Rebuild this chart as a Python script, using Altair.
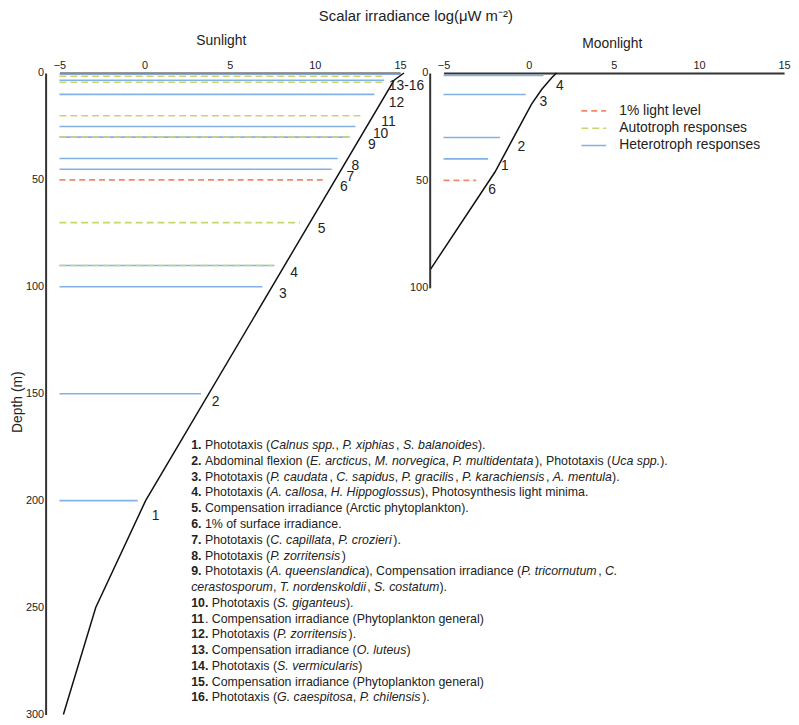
import altair as alt
import pandas as pd

# ---------------- data ----------------
CATS = ["1% light level", "Autotroph responses", "Heterotroph responses"]
L, A, H = CATS
COLORS = ["#f4866a", "#c9d56c", "#82b1e6"]
DASHES = [[6, 4], [7, 4], [1, 0]]

line_start = -5

# Sunlight panel
sun_curve_x = [15.23, 14.65, 0.06, -2.87, -4.77]
sun_curve_depth = [0, 3.4, 200, 250, 300]

sun_line_depth = [0.5, 1.5, 3.4, 4.3, 10, 20, 25, 30, 30, 40, 45, 50, 70, 90, 90, 100, 150, 200]
sun_line_end = [15.0, 14.07, 14.07, 14.07, 13.49, 12.73, 12.38, 12.03, 12.03, 11.34, 10.99, 10.52,
                9.13, 7.62, 7.62, 6.92, 3.31, -0.41]
sun_line_type = [H, A, H, A, H, A, H, H, A, H, H, L, A, H, A, H, H, H]

sun_label_text = ["13-16", "12", "11", "10", "9", "8", "7", "6", "5", "4", "3", "2", "1"]
sun_label_x = [14.34, 14.34, 13.9, 13.41, 13.12, 12.15, 11.86, 11.47, 10.17, 8.56, 7.89, 3.95, 0.42]
sun_label_depth = [6.2, 13.9, 23.1, 28.6, 33.9, 43.5, 48.6, 53.4, 73.1, 93.4, 103.4, 153.7, 207.1]

# Moonlight panel
moon_curve_x = [1.63, 1.34, 0.76, 0.16, -1.98, -5.76]
moon_curve_depth = [0, 2.3, 7.7, 14.6, 46.1, 91.3]

moon_line_depth = [1.2, 10, 30, 40, 50]
moon_line_end = [0.87, -0.17, -1.69, -2.38, -3.08]
moon_line_type = [H, H, H, H, L]

moon_label_text = ["4", "3", "2", "1", "6"]
moon_label_x = [1.61, 0.64, -0.66, -1.63, -2.37]
moon_label_depth = [6.1, 13.5, 34.6, 43.3, 54.5]

# Notes (**bold**, _italic_)
note_lines = [
    "**1.** Phototaxis (_Calnus spp._, _P. xiphias_, _S. balanoides_).",
    "**2.** Abdominal flexion (_E. arcticus_, _M. norvegica_, _P. multidentata_), Phototaxis (_Uca spp._).",
    "**3.** Phototaxis (_P. caudata_, _C. sapidus_, _P. gracilis_, _P. karachiensis_, _A. mentula_).",
    "**4.** Phototaxis (_A. callosa_, _H. Hippoglossus_), Photosynthesis light minima.",
    "**5.** Compensation irradiance (Arctic phytoplankton).",
    "**6.** 1% of surface irradiance.",
    "**7.** Phototaxis (_C. capillata_, _P. crozieri_).",
    "**8.** Phototaxis (_P. zorritensis_)",
    "**9.** Phototaxis (_A. queenslandica_), Compensation irradiance (_P. tricornutum_, _C._",
    "_cerastosporum_, _T. nordenskoldii_, _S. costatum_).",
    "**10.** Phototaxis (_S. giganteus_).",
    "**11**. Compensation irradiance (Phytoplankton general)",
    "**12.** Phototaxis (_P. zorritensis_).",
    "**13.** Compensation irradiance (_O. luteus_)",
    "**14.** Phototaxis (_S. vermicularis_)",
    "**15.** Compensation irradiance (Phytoplankton general)",
    "**16.** Phototaxis (_G. caespitosa_, _P. chilensis_).",
]

# ---------------- layout / style ----------------
FONT = "Liberation Sans"
TXT = "#222222"
SUN_W, MOON_X0, MOON_X1 = 344, 388, 732
SUN_H, MOON_H = 648, 217
NOTE_X, NOTE_Y, NOTE_DY, NOTE_FS = 133, 376, 15.93, 12.5

ARIAL = {' ': 278, '%': 889, '(': 333, ')': 333, ',': 278, '-': 333, '.': 278,
         'A': 667, 'B': 667, 'C': 722, 'D': 722, 'E': 667, 'F': 611, 'G': 778, 'H': 722, 'I': 278,
         'J': 500, 'K': 667, 'L': 556, 'M': 833, 'N': 722, 'O': 778, 'P': 667, 'Q': 778, 'R': 722,
         'S': 667, 'T': 611, 'U': 722, 'V': 667, 'W': 944, 'X': 667, 'Y': 667, 'Z': 611,
         'a': 556, 'b': 556, 'c': 500, 'd': 556, 'e': 556, 'f': 278, 'g': 556, 'h': 556, 'i': 222,
         'j': 222, 'k': 500, 'l': 222, 'm': 833, 'n': 556, 'o': 556, 'p': 556, 'q': 556, 'r': 333,
         's': 500, 't': 278, 'u': 556, 'v': 500, 'w': 722, 'x': 500, 'y': 500, 'z': 500}


def text_width(s, size):
    return sum(ARIAL.get(c, 556) for c in s) * size / 1000.0


def parse(line):
    segs, buf, style, j = [], "", "normal", 0
    while j < len(line):
        if line.startswith("**", j):
            if buf:
                segs.append((buf, style))
                buf = ""
            style = "normal" if style == "bold" else "bold"
            j += 2
        elif line[j] == "_":
            if buf:
                segs.append((buf, style))
                buf = ""
            style = "normal" if style == "italic" else "italic"
            j += 1
        else:
            buf += line[j]
            j += 1
    if buf:
        segs.append((buf, style))
    return segs


rows = []
for i, line in enumerate(note_lines):
    off = 0.0
    for text, style in parse(line):
        stripped = text.lstrip(" ")
        off += text_width(text[: len(text) - len(stripped)], NOTE_FS)
        if stripped:
            rows.append(dict(line=i, off=off, text=stripped, style=style))
        off += text_width(stripped, NOTE_FS)
notes = pd.DataFrame(rows)
notes["px"] = NOTE_X + notes["off"]
notes["py"] = NOTE_Y + notes["line"] * NOTE_DY

prio = {H: 0, A: 1, L: 2}
sun_lines = pd.DataFrame({"x0": line_start, "x1": sun_line_end, "depth": sun_line_depth, "type": sun_line_type})
moon_lines = pd.DataFrame({"x0": line_start, "x1": moon_line_end, "depth": moon_line_depth, "type": moon_line_type})
sun_lines = sun_lines.assign(p=sun_lines["type"].map(prio)).sort_values("p", kind="stable")
moon_lines = moon_lines.assign(p=moon_lines["type"].map(prio)).sort_values("p", kind="stable")

sun_curve = pd.DataFrame({"x": sun_curve_x, "depth": sun_curve_depth})
moon_curve = pd.DataFrame({"x": moon_curve_x, "depth": moon_curve_depth})
sun_labels = pd.DataFrame({"x": sun_label_x, "depth": sun_label_depth, "label": sun_label_text})
moon_labels = pd.DataFrame({"x": moon_label_x, "depth": moon_label_depth, "label": moon_label_text})

AX = dict(grid=False, ticks=False, domainColor="#333333", domainWidth=2, labelFont=FONT,
          labelFontSize=11, labelColor=TXT, labelOverlap=False, labelFlush=False,
          titleFont=FONT, titleFontWeight="normal", titleColor=TXT)

LEG = alt.Legend(orient="none", legendX=532.25, legendY=30.75, title=None, symbolType="M-2,0H2",
                 symbolSize=156.25, symbolStrokeWidth=1.6, labelFont=FONT, labelFontSize=14,
                 labelColor=TXT, labelOffset=18.25, rowPadding=2.5, padding=0)
color_enc = alt.Color("type:N", scale=alt.Scale(domain=CATS, range=COLORS), legend=LEG)
dash_enc = alt.StrokeDash("type:N", scale=alt.Scale(domain=CATS, range=DASHES), legend=LEG)


def panel(lines_df, curve_df, labels_df, xrange, yrange, ydomain, xaxis, yaxis):
    xs = alt.Scale(domain=[-5, 15], range=xrange, nice=False, zero=False)
    ys = alt.Scale(domain=ydomain, range=yrange, nice=False, zero=False)
    rules = alt.Chart(lines_df).mark_rule(strokeWidth=1.6).encode(
        x=alt.X("x0:Q", scale=xs, axis=xaxis),
        x2="x1:Q",
        y=alt.Y("depth:Q", scale=ys, axis=yaxis),
        color=color_enc,
        strokeDash=dash_enc,
    )
    curve = alt.Chart(curve_df).mark_line(color="#111111", strokeWidth=1.5).encode(
        x=alt.X("x:Q", scale=xs),
        y=alt.Y("depth:Q", scale=ys),
        order="depth:Q",
    )
    labels = alt.Chart(labels_df).mark_text(align="left", baseline="middle", font=FONT,
                                            fontSize=14, color=TXT).encode(
        x=alt.X("x:Q", scale=xs),
        y=alt.Y("depth:Q", scale=ys),
        text="label:N",
    )
    return alt.layer(rules, curve, labels)


sun = panel(
    sun_lines, sun_curve, sun_labels, [0, SUN_W], [0, SUN_H], [0, 300],
    alt.Axis(orient="top", values=[-5, 0, 5, 10, 15], title="Sunlight", titleFontSize=14,
             titlePadding=12, titleX=163, labelPadding=3, **AX),
    alt.Axis(orient="left", values=[0, 50, 100, 150, 200, 250, 300], title="Depth (m)",
             titleFontSize=14, offset=14, labelPadding=2, titlePadding=1, titleY=332, **AX),
)
moon = panel(
    moon_lines, moon_curve, moon_labels, [MOON_X0, MOON_X1], [0, MOON_H], [0, 100],
    alt.Axis(orient="top", values=[-5, 0, 5, 10, 15], title="Moonlight", titleFontSize=14,
             titlePadding=9, titleX=558, labelPadding=3, **AX),
    alt.Axis(orient="left", values=[0, 50, 100], title="", offset=-(MOON_X0 - 14), labelPadding=2, **AX),
)


def note_layer(style, **kw):
    return alt.Chart(notes).transform_filter(alt.datum.style == style).mark_text(
        align="left", baseline="middle", font=FONT, fontSize=NOTE_FS, color=TXT, **kw
    ).encode(
        x=alt.X("px:Q", scale=None),
        y=alt.Y("py:Q", scale=None),
        text="text:N",
    )


note_block = alt.layer(
    note_layer("normal"),
    note_layer("bold", fontWeight="bold"),
    note_layer("italic", fontStyle="italic"),
)

chart = alt.layer(sun, moon, note_block).resolve_scale(
    x="independent", y="independent"
).properties(
    width=MOON_X1,
    height=SUN_H,
    autosize=alt.AutoSizeParams(type="none"),
    padding={"left": 52, "top": 62, "right": 7, "bottom": 5},
    title=alt.TitleParams("Scalar irradiance log(μW m⁻²)", font=FONT, fontSize=15,
                          fontWeight="normal", color=TXT, anchor="middle", frame="group",
                          dx=-6, offset=10),
).configure_view(stroke=None)

chart.save("out.html", embed_options={"renderer": "svg", "actions": False})
